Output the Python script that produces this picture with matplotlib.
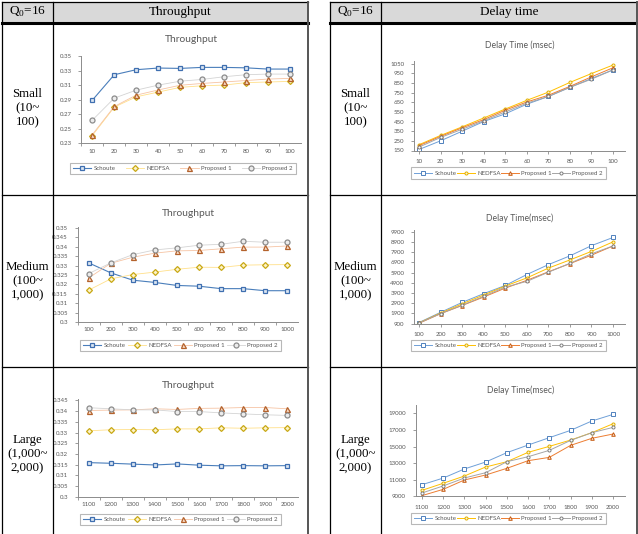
import matplotlib.pyplot as plt
from matplotlib.patches import Rectangle
from matplotlib.lines import Line2D

plt.rcParams['mathtext.fontset'] = 'custom'
plt.rcParams['mathtext.rm'] = 'Liberation Serif'

# ---- data ----
series = ['Schoute', 'NEDFSA', 'Proposed 1', 'Proposed 2']

small_x = ['10', '20', '30', '40', '50', '60', '70', '80', '90', '100']
medium_x = ['100', '200', '300', '400', '500', '600', '700', '800', '900', '1000']
large_x = ['1100', '1200', '1300', '1400', '1500', '1600', '1700', '1800', '1900', '2000']

thr_small_schoute = [0.2895, 0.3245, 0.3314, 0.3337, 0.3332, 0.3346, 0.3346, 0.3340, 0.3323, 0.3323]
thr_small_nedfsa = [0.2408, 0.2799, 0.2941, 0.3006, 0.3071, 0.3093, 0.3102, 0.3136, 0.3145, 0.3153]
thr_small_prop1 = [0.2422, 0.2808, 0.2964, 0.3035, 0.3100, 0.3125, 0.3145, 0.3165, 0.3185, 0.3195]
thr_small_prop2 = [0.2620, 0.2923, 0.3033, 0.3102, 0.3156, 0.3180, 0.3217, 0.3245, 0.3254, 0.3254]

dly_small_schoute = [160, 250, 350, 450, 530, 630, 710, 805, 897, 986]
dly_small_nedfsa = [210, 306, 395, 487, 580, 670, 755, 856, 948, 1036]
dly_small_prop1 = [200, 296, 385, 470, 568, 653, 723, 815, 914, 1008]
dly_small_prop2 = [185, 285, 370, 458, 550, 640, 710, 805, 890, 986]

thr_med_schoute = [0.3314, 0.3261, 0.3222, 0.3210, 0.3194, 0.3190, 0.3177, 0.3177, 0.3166, 0.3166]
thr_med_nedfsa = [0.3169, 0.3229, 0.3252, 0.3265, 0.3280, 0.3291, 0.3290, 0.3302, 0.3304, 0.3305]
thr_med_prop1 = [0.3234, 0.3312, 0.3344, 0.3366, 0.3378, 0.3380, 0.3389, 0.3398, 0.3398, 0.3404]
thr_med_prop2 = [0.3257, 0.3314, 0.3358, 0.3383, 0.3394, 0.3408, 0.3413, 0.3429, 0.3424, 0.3424]

dly_med_schoute = [1000, 2000, 2970, 3830, 4630, 5700, 6670, 7530, 8530, 9330]
dly_med_nedfsa = [970, 1930, 2830, 3700, 4570, 5370, 6330, 7130, 7970, 8900]
dly_med_prop1 = [930, 1870, 2670, 3500, 4370, 5130, 5970, 6770, 7600, 8500]
dly_med_prop2 = [960, 1870, 2700, 3570, 4470, 5030, 5930, 6800, 7730, 8500]

thr_large_schoute = [0.3159, 0.3156, 0.3152, 0.3148, 0.3153, 0.3147, 0.3144, 0.3145, 0.3144, 0.3145]
thr_large_nedfsa = [0.3308, 0.3313, 0.3314, 0.3313, 0.3317, 0.3317, 0.3322, 0.3320, 0.3322, 0.3323]
thr_large_prop1 = [0.3403, 0.3405, 0.3406, 0.3411, 0.3408, 0.3413, 0.3414, 0.3417, 0.3417, 0.3411]
thr_large_prop2 = [0.3416, 0.3411, 0.3406, 0.3406, 0.3398, 0.3398, 0.3392, 0.3387, 0.3383, 0.3380]

dly_large_schoute = [10400, 11200, 12300, 13140, 14270, 15190, 16080, 16960, 18090, 18890]
dly_large_nedfsa = [9720, 10570, 11450, 12540, 13180, 14310, 15030, 15790, 16680, 17760]
dly_large_prop1 = [9080, 9840, 10970, 11570, 12380, 13300, 13700, 15150, 16000, 16520]
dly_large_prop2 = [9400, 10250, 11210, 11850, 13180, 13780, 14550, 15750, 16680, 17320]

row_labels = ['Small\n(10~\n100)', 'Medium\n(100~\n1,000)', 'Large\n(1,000~\n2,000)']

W, H = 638, 534
fig = plt.figure(figsize=(6.38, 5.34), dpi=100)
fig.patch.set_facecolor('white')


def fx(x):
    return x / W


def fy(y):
    return 1 - y / H


def hline(y, x0, x1, lw=0.9, c='black'):
    fig.add_artist(Line2D([fx(x0), fx(x1)], [fy(y), fy(y)], lw=lw, color=c))


def vline(x, y0, y1, lw=0.9, c='black'):
    fig.add_artist(Line2D([fx(x), fx(x)], [fy(y0), fy(y1)], lw=lw, color=c))


# ---- the two tables ----
for (t0, t1, c1, head) in [(2, 308, 53, 'Throughput'), (330, 637, 381, 'Delay time')]:
    fig.add_artist(Rectangle((fx(t0), fy(22)), (t1 - t0) / W, 20 / H,
                             transform=fig.transFigure, fc='#d9d9d9', ec='none'))
    hline(2, t0, t1)
    hline(22.5, t0, t1, lw=2.2)
    hline(195, t0, t1)
    hline(367, t0, t1)
    vline(t0, 2, 534)
    vline(c1, 2, 534)
    vline(t1, 2, 534, lw=1.4, c='#555555')
    fig.text(fx((t0 + c1) / 2), fy(12), r'Q$_{\mathrm{0}}$=16', ha='center', va='center',
             family='Liberation Serif', fontsize=9.5)
    fig.text(fx((c1 + t1) / 2), fy(12), head, ha='center', va='center',
             family='Liberation Serif', fontsize=9.5)
    for lab, yc in zip(row_labels, [108.5, 281.3, 454.5]):
        fig.text(fx((t0 + c1) / 2), fy(yc), lab, ha='center', va='center',
                 family='Liberation Serif', fontsize=9.3, linespacing=1.25)

# ---- chart styles ----
thr_style = [
    dict(color='#4a7ebb', lw=0.8, marker='s', mec='#3f6fb0', mfc='#dce6f2', ms=3.4, mew=0.9),
    dict(color='#ffe08a', lw=0.6, marker='D', mec='#c8a815', mfc='#fdf3c8', ms=3.0, mew=0.9),
    dict(color='#f6c4a4', lw=0.6, marker='^', mec='#b4622c', mfc='#f8dcc8', ms=3.6, mew=0.9),
    dict(color='#d4d4d4', lw=0.6, marker='o', mec='#8c8c8c', mfc='#ececec', ms=3.6, mew=0.9),
]
dly_style = [
    dict(color='#6fa0d8', lw=0.7, marker='s', mec='#4f81bd', mfc='white', ms=2.4, mew=0.7),
    dict(color='#ffc000', lw=0.7, marker='o', mec='#e0b000', mfc='#fff2cc', ms=2.2, mew=0.7),
    dict(color='#ed7d31', lw=0.7, marker='^', mec='#c55a11', mfc='#fbe5d6', ms=2.6, mew=0.7),
    dict(color='#a5a5a5', lw=0.7, marker='o', mec='#7f7f7f', mfc='white', ms=2.2, mew=0.7),
]

TXT = '#595959'


def chart(box, xlim, ylim, yticks, yfmt, cats, data, styles, title, title_y, title_size,
          legbox, on_tick):
    left, top, right, bottom = box
    ax = fig.add_axes([fx(left), fy(bottom), (right - left) / W, (bottom - top) / H])
    pos = list(range(len(cats)))
    for name, vals, st in zip(series, data, styles):
        ax.plot(pos, vals, label=name, **st)
    ax.set_xlim(*xlim)
    ax.set_ylim(*ylim)
    ax.set_yticks(yticks)
    ax.set_yticklabels([yfmt(v) for v in yticks])
    ax.set_xticks(pos)
    ax.set_xticklabels(cats)
    for s in ['top', 'right']:
        ax.spines[s].set_visible(False)
    for s in ['left', 'bottom']:
        ax.spines[s].set_color('#8c8c8c')
        ax.spines[s].set_linewidth(0.7)
    ax.tick_params(axis='both', labelsize=4.4, labelcolor=TXT, colors='#8c8c8c',
                   length=2, width=0.6, pad=2)
    ax.tick_params(axis='y', pad=5)
    ax.tick_params(axis='x', pad=4)
    if not on_tick:
        ax.set_xticks([p + 0.5 for p in pos[:-1]] + [-0.5], minor=True)
        ax.tick_params(axis='x', which='major', length=0)
        ax.tick_params(axis='x', which='minor', length=2, width=0.6, colors='#8c8c8c')
    ax.set_facecolor('none')
    fig.text(fx((left + right) / 2), fy(title_y), title, ha='center', va='center',
             fontsize=title_size, color=TXT, family='Lato')
    lx0, ly0, lx1, ly1 = legbox
    leg = ax.legend(loc='center', bbox_to_anchor=(fx(lx0), fy(ly1), (lx1 - lx0) / W, (ly1 - ly0) / H),
                    bbox_transform=fig.transFigure, ncol=4, mode='expand',
                    frameon=True, fancybox=False, edgecolor='#a6a6a6', borderaxespad=0,
                    handlelength=3.0, handletextpad=0.4, borderpad=0.5, columnspacing=1.0,
                    prop={'family': 'Lato', 'size': 4.4})
    leg.get_frame().set_linewidth(0.8)
    for t in leg.get_texts():
        t.set_color(TXT)
    for lab in ax.get_xticklabels() + ax.get_yticklabels():
        lab.set_family('Lato')
    return ax


def fthr(v):
    s = '%.3f' % v
    s = s.rstrip('0')
    if s.endswith('.'):
        s += '0'
    return s


def fint(v):
    return '%d' % v


# Small throughput
chart((81.4, 56.2, 300.6, 143.4), (-0.5, 9.5), (0.23, 0.35),
      [0.23, 0.25, 0.27, 0.29, 0.31, 0.33, 0.35], lambda v: '%.2f' % v, small_x,
      [thr_small_schoute, thr_small_nedfsa, thr_small_prop1, thr_small_prop2], thr_style,
      'Throughput', 39.8, 7.4, (70, 161.8, 296, 175.4), False)

# Small delay
chart((414.2, 60.8, 624.5, 150.5), (-0.22, 9.53), (150, 1080),
      list(range(150, 1051, 100)), fint, small_x,
      [dly_small_schoute, dly_small_nedfsa, dly_small_prop1, dly_small_prop2], dly_style,
      'Delay Time (msec)', 45, 6.2, (411, 167, 606, 179), True)

# Medium throughput
chart((77.7, 227.0, 298.2, 321.9), (-0.5, 9.5), (0.3, 0.3505),
      [0.3 + 0.005 * i for i in range(11)], fthr, medium_x,
      [thr_med_schoute, thr_med_nedfsa, thr_med_prop1, thr_med_prop2], thr_style,
      'Throughput', 213.6, 7.4, (80, 339, 281, 351.5), False)

# Medium delay
chart((414.2, 230.1, 624.5, 323.6), (-0.22, 9.53), (900, 10050),
      list(range(900, 9901, 1000)), fint, medium_x,
      [dly_med_schoute, dly_med_nedfsa, dly_med_prop1, dly_med_prop2], dly_style,
      'Delay Time(msec)', 218, 6.2, (411, 339.6, 606, 351.5), True)

# Large throughput
chart((77.9, 399.4, 298.3, 496.6), (-0.5, 9.5), (0.3, 0.3455),
      [0.3 + 0.005 * i for i in range(10)], fthr, large_x,
      [thr_large_schoute, thr_large_nedfsa, thr_large_prop1, thr_large_prop2], thr_style,
      'Throughput', 386, 7.4, (80, 514, 281, 525.5), False)

# Large delay
chart((415.8, 405.2, 624.5, 496.3), (-0.29, 9.54), (9000, 20000),
      list(range(9000, 19001, 2000)), fint, large_x,
      [dly_large_schoute, dly_large_nedfsa, dly_large_prop1, dly_large_prop2], dly_style,
      'Delay Time(msec)', 390.7, 6.2, (411, 512.6, 606, 524.5), True)

fig.savefig('out.png', dpi=100)
